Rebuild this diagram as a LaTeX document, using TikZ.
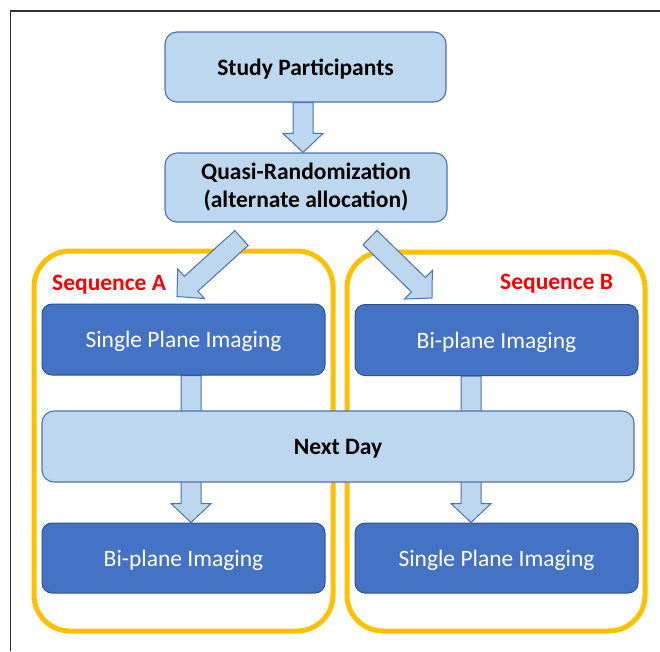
\documentclass[tikz,border=0pt]{standalone}
\usepackage{fontspec}
\setmainfont{Carlito}
\usetikzlibrary{calc}
\definecolor{lightfill}{HTML}{BDD7EE}
\definecolor{lightdraw}{HTML}{4A72B0}
\definecolor{darkfill}{HTML}{4472C4}
\definecolor{darkdraw}{HTML}{2F528F}
\definecolor{seqorange}{HTML}{FFC000}
\definecolor{seqred}{HTML}{FF0000}
\definecolor{framegray}{HTML}{333333}
\pgfdeclarelayer{bg}
\pgfdeclarelayer{mid}
\pgfsetlayers{bg,mid,main}
\tikzset{
  lightbox/.style={draw=lightdraw, fill=lightfill, line width=1.1pt, rounded corners=12pt,
    inner sep=0pt, font=\fontsize{23.5}{28}\selectfont\bfseries, text=black, align=center},
  oneline/.style={text height=19pt, text depth=3pt},
  darkbox/.style={draw=darkdraw, fill=darkfill, line width=1pt, rounded corners=10pt,
    inner sep=0pt, font=\fontsize{23.5}{28}\selectfont, text=white, align=center,
    minimum width=283pt, minimum height=71pt, oneline},
  seqbox/.style={draw=seqorange, line width=5pt, rounded corners=36pt, inner sep=0pt},
  seqlabel/.style={text=seqred, font=\fontsize{23.5}{28}\selectfont\bfseries, inner sep=0pt},
  blockarrow/.style={fill=lightfill, draw=lightdraw, line width=1pt, line join=miter},
}
\newcommand{\blockarr}[2]{%
  \coordinate (hb) at ($(#2)!19pt!(#1)$);
  \filldraw[blockarrow] ($(#1)!10pt!90:(#2)$) -- ($(hb)!10pt!90:(#2)$) -- ($(hb)!20pt!90:(#2)$)
    -- (#2) -- ($(hb)!20pt!-90:(#2)$) -- ($(hb)!10pt!-90:(#2)$) -- ($(#1)!10pt!-90:(#2)$) -- cycle;}
\begin{document}
\begin{tikzpicture}[x=1pt, y=-1pt]
\useasboundingbox (0,0) rectangle (660,651);

% background and sequence boxes
\begin{pgfonlayer}{bg}
\fill[white] (0,0) rectangle (660,651);
\node[seqbox, minimum width=299pt, minimum height=380pt] (seqA) at (183.5,441) {};
\node[seqbox, minimum width=298pt, minimum height=379pt] (seqB) at (496,441.5) {};
\end{pgfonlayer}

% frame
\draw[framegray, line width=1.8pt] (10.5,651) -- (10.5,11) -- (660,11);

\node[seqlabel, anchor=base west] (labA) at (52,290) {Sequence A};
\node[seqlabel, anchor=base west] (labB) at (500,289) {Sequence B};

% top boxes
\node[lightbox, oneline, minimum width=281pt, minimum height=70pt] (sp) at (305.5,67) {Study Participants};
\node[lightbox, minimum width=282pt, minimum height=69pt] (qr) at (306,187.5) {Quasi-Randomization\\(alternate allocation)};

% imaging boxes
\node[darkbox] (a1) at (183.5,339.5) {Single Plane Imaging};
\node[darkbox] (b1) at (496.5,340) {Bi-plane Imaging};
\node[darkbox, minimum height=70pt] (a2) at (183.5,558) {Bi-plane Imaging};
\node[darkbox, minimum height=70pt] (b2) at (496.5,558) {Single Plane Imaging};

% next day
\node[lightbox, oneline, minimum width=592pt, minimum height=71pt] (nd) at (338,446.5) {Next Day};

% vertical arrows (behind the Next Day box)
\begin{pgfonlayer}{mid}
\coordinate (v1s) at ($(sp.south)+(-2.5,0)$);
\coordinate (v1e) at ($(qr.north)+(-3,0)$);
\coordinate (vAs) at ($(a1.south)+(7.5,0)$);
\coordinate (vAe) at ($(a2.north)+(7.5,0)$);
\coordinate (vBs) at ($(b1.south)+(-25.5,0)$);
\coordinate (vBe) at ($(b2.north)+(-25.5,0)$);
\blockarr{v1s}{v1e}
\blockarr{vAs}{vAe}
\blockarr{vBs}{vBe}
\end{pgfonlayer}

% diagonal arrows
\coordinate (dLs) at ($(qr.south)+(-64.5,15.5)$);
\coordinate (dLe) at ($(a1.north)+(-6.5,-7)$);
\coordinate (dRs) at ($(qr.south)+(64,15)$);
\coordinate (dRe) at ($(b1.north)+(-64.5,-6)$);
\blockarr{dLs}{dLe}
\blockarr{dRs}{dRe}
\end{tikzpicture}
\end{document}
